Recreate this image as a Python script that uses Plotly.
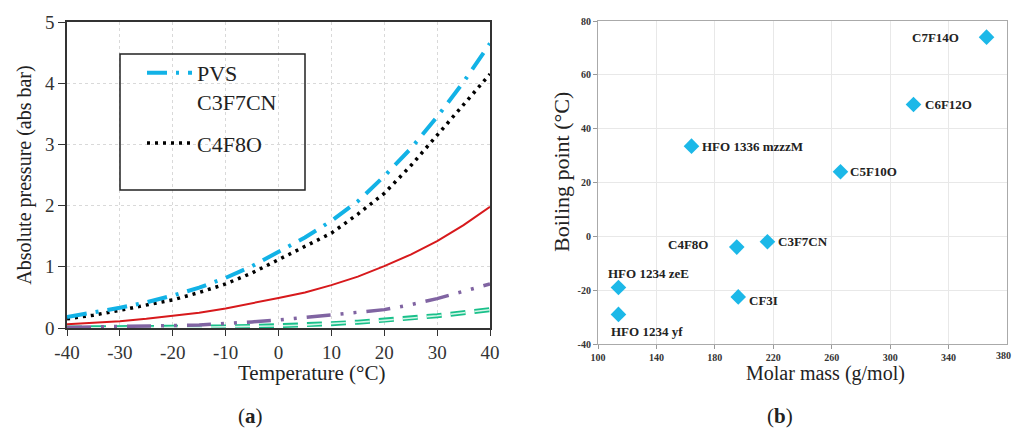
import plotly.graph_objects as go

# ---------------- Panel (a) data ----------------
temperature = [-40, -35, -30, -25, -20, -15, -10, -5, 0, 5, 10, 15, 20, 25, 30, 35, 40]
p_c3f7cn = [0.18, 0.25, 0.33, 0.42, 0.53, 0.66, 0.82, 1.01, 1.24, 1.48, 1.75, 2.07, 2.48, 2.93, 3.45, 4.02, 4.65]
p_c4f8o = [0.15, 0.21, 0.29, 0.37, 0.46, 0.58, 0.72, 0.90, 1.12, 1.33, 1.55, 1.86, 2.20, 2.65, 3.15, 3.65, 4.15]
p_red = [0.06, 0.08, 0.11, 0.15, 0.20, 0.25, 0.32, 0.40, 0.49, 0.58, 0.70, 0.84, 1.01, 1.20, 1.42, 1.68, 1.98]
p_purple = [0.01, 0.015, 0.02, 0.03, 0.04, 0.05, 0.07, 0.10, 0.13, 0.17, 0.21, 0.25, 0.30, 0.38, 0.48, 0.60, 0.72]
p_green = [0.0, 0.0, 0.005, 0.007, 0.01, 0.013, 0.018, 0.025, 0.035, 0.05, 0.07, 0.095, 0.125, 0.16, 0.20, 0.25, 0.30]
temp_ticks = [-40, -30, -20, -10, 0, 10, 20, 30, 40]
pressure_ticks = [0, 1, 2, 3, 4, 5]

# ---------------- Panel (b) data ----------------
gas_names = ["C7F14O", "C6F12O", "HFO 1336 mzzzM", "C5F10O", "C3F7CN",
             "C4F8O", "CF3I", "HFO 1234 zeE", "HFO 1234 yf"]
molar_mass = [366, 316, 164, 266, 216, 195, 196, 114, 114]
boiling_point = [74, 49, 33.5, 24, -2, -4, -22.5, -19, -29]
mass_ticks = [100, 140, 180, 220, 260, 300, 340, 380]
bp_ticks = [-40, -20, 0, 20, 40, 60, 80]

# label placement (anchor, x offset px, y offset px) for each point label
label_anchor = ["right", "left", "left", "left", "left", "right", "left", "left", "left"]
label_dx = [-26, 9, 9, 8, 9, -27, 9, -12, -9]
label_dy = [0, 0, 0, 0, 0, 3, -4, 14, -17]

SERIF = "Liberation Serif"

fig = go.Figure()

# --- panel (a) traces ---
fig.add_trace(go.Scatter(
    x=temperature, y=p_green, mode="lines", showlegend=False, xaxis="x", yaxis="y",
    line=dict(color="#19c08a", width=5, dash="15px,9px"), hoverinfo="skip"))
fig.add_trace(go.Scatter(
    x=temperature, y=p_green, mode="lines", showlegend=False, xaxis="x", yaxis="y",
    line=dict(color="#d4f5e8", width=1.6, dash="15px,9px"), hoverinfo="skip"))
fig.add_trace(go.Scatter(
    x=temperature, y=p_purple, mode="lines", showlegend=False, xaxis="x", yaxis="y",
    line=dict(color="#8064A2", width=3.5, dash="24px,10px,3px,10px,3px,10px")))
fig.add_trace(go.Scatter(
    x=temperature, y=p_red, mode="lines", showlegend=False, xaxis="x", yaxis="y",
    line=dict(color="#D7191C", width=2)))
fig.add_trace(go.Scatter(
    x=temperature, y=p_c4f8o, mode="lines", name="C4F8O", legendgroup="b",
    legendrank=2, xaxis="x", yaxis="y",
    line=dict(color="#000000", width=3.5, dash="3px,5px")))
fig.add_trace(go.Scatter(
    x=temperature, y=p_c3f7cn, mode="lines", name="PVS<br>C3F7CN", legendgroup="a",
    legendrank=1, xaxis="x", yaxis="y",
    line=dict(color="#12B2E6", width=4, dash="20px,9px,3px,9px")))

# --- panel (b) trace ---
fig.add_trace(go.Scatter(
    x=molar_mass, y=boiling_point, mode="markers", showlegend=False,
    xaxis="x2", yaxis="y2",
    marker=dict(symbol="diamond", size=12, color="#1CB8E8",
                line=dict(color="#1CB8E8", width=0))))

annotations = []
for name, mx, by, anc, dx, dy in zip(gas_names, molar_mass, boiling_point,
                                      label_anchor, label_dx, label_dy):
    annotations.append(dict(
        text="<b>" + name + "</b>", x=mx, y=by, xref="x2", yref="y2",
        xanchor=anc, yanchor="middle", xshift=dx, yshift=dy, showarrow=False,
        font=dict(family=SERIF, size=13, color="#222222")))

# last x tick label of panel (b), which sits at the very edge of the figure
annotations.append(dict(
    text="<b>" + str(mass_ticks[-1]) + "</b>", x=mass_ticks[-1], y=1 - 355 / 430,
    xref="x2", yref="paper", xanchor="center", yanchor="middle", xshift=-4,
    showarrow=False, font=dict(family=SERIF, size=10, color="#333333")))

# axis titles placed as in the reference
annotations += [
    dict(text="Temperature (°C)", x=311 / 1012, y=1 - 373 / 430, xref="paper", yref="paper",
         xanchor="center", yanchor="middle", showarrow=False,
         font=dict(family=SERIF, size=21, color="#222222")),
    dict(text="Molar mass (g/mol)", x=825 / 1012, y=1 - 373 / 430, xref="paper", yref="paper",
         xanchor="center", yanchor="middle", showarrow=False,
         font=dict(family=SERIF, size=20, color="#222222")),
    dict(text="Boiling point (°C)", x=561 / 1012, y=1 - 172 / 430, xref="paper", yref="paper",
         xanchor="center", yanchor="middle", showarrow=False, textangle=-90,
         font=dict(family=SERIF, size=22, color="#222222")),
    dict(text="(<b>a</b>)", x=250 / 1012, y=1 - 416 / 430, xref="paper", yref="paper",
         xanchor="center", yanchor="middle", showarrow=False,
         font=dict(family=SERIF, size=21, color="#222222")),
    dict(text="(<b>b</b>)", x=780 / 1012, y=1 - 416 / 430, xref="paper", yref="paper",
         xanchor="center", yanchor="middle", showarrow=False,
         font=dict(family=SERIF, size=21, color="#222222")),
]

fig.update_layout(
    width=1012, height=430,
    margin=dict(l=0, r=0, t=0, b=0, autoexpand=False),
    paper_bgcolor="white", plot_bgcolor="white",
    font=dict(family=SERIF, color="#222222"),
    legend=dict(
        x=142 / 1012, y=1 - 52 / 430, xanchor="left", yanchor="top",
        borderwidth=0, bgcolor="rgba(0,0,0,0)",
        font=dict(family=SERIF, size=22, color="#222222"),
        valign="top", tracegroupgap=10, traceorder="grouped",
        itemwidth=45,
    ),
    shapes=[dict(type="rect", xref="paper", yref="paper",
                 x0=120 / 1012, x1=305 / 1012, y0=1 - 190 / 430, y1=1 - 54 / 430,
                 line=dict(color="#222222", width=1.5), fillcolor="rgba(0,0,0,0)",
                 layer="above")],
    xaxis=dict(
        domain=[67 / 1012, 490 / 1012], range=[-40, 40], automargin=False,
        tickvals=temp_ticks, ticktext=[str(v) for v in temp_ticks],
        ticks="outside", ticklen=6, tickcolor="#333333",
        showline=True, linecolor="#333333", linewidth=1.5, mirror=True,
        showgrid=True, gridcolor="#d9d9d9", griddash="dot", zeroline=False,
        tickfont=dict(family=SERIF, size=19, color="#333333"),
        anchor="y",
    ),
    yaxis=dict(
        domain=[1 - 328 / 430, 1 - 22 / 430], range=[0, 5], automargin=False,
        tickvals=pressure_ticks, ticktext=[str(v) for v in pressure_ticks],
        ticks="outside", ticklen=7, tickcolor="#333333",
        showline=True, linecolor="#333333", linewidth=1.5, mirror=True,
        showgrid=True, gridcolor="#d9d9d9", griddash="dot", zeroline=False,
        tickfont=dict(family=SERIF, size=19, color="#333333"),
        title=dict(text="Absolute pressure (abs bar)", standoff=8,
                   font=dict(family=SERIF, size=20, color="#222222")),
        anchor="x",
    ),
    xaxis2=dict(
        domain=[598 / 1012, 1007 / 1012], range=[100, 380], automargin=False,
        tickvals=mass_ticks[:-1], ticktext=[str(v) for v in mass_ticks[:-1]],
        ticks="outside", ticklen=4, tickcolor="#999999",
        showline=True, linecolor="#aaaaaa", linewidth=1.2, mirror=True,
        showgrid=True, gridcolor="#e8e8e8", zeroline=False,
        tickfont=dict(family=SERIF, size=10, color="#333333", weight="bold"),
        anchor="y2",
    ),
    yaxis2=dict(
        domain=[1 - 344 / 430, 1 - 21 / 430], range=[-40, 80], automargin=False,
        tickvals=bp_ticks, ticktext=[str(v) for v in bp_ticks],
        ticks="outside", ticklen=4, tickcolor="#999999",
        showline=True, linecolor="#aaaaaa", linewidth=1.2, mirror=True,
        showgrid=True, gridcolor="#e8e8e8", zeroline=False,
        tickfont=dict(family=SERIF, size=10, color="#333333", weight="bold"),
        anchor="x2",
    ),
    annotations=annotations,
)

fig.write_html("out.html", config={"displayModeBar": False},
               post_script="document.body.style.margin='0';document.body.style.overflow='hidden';")
